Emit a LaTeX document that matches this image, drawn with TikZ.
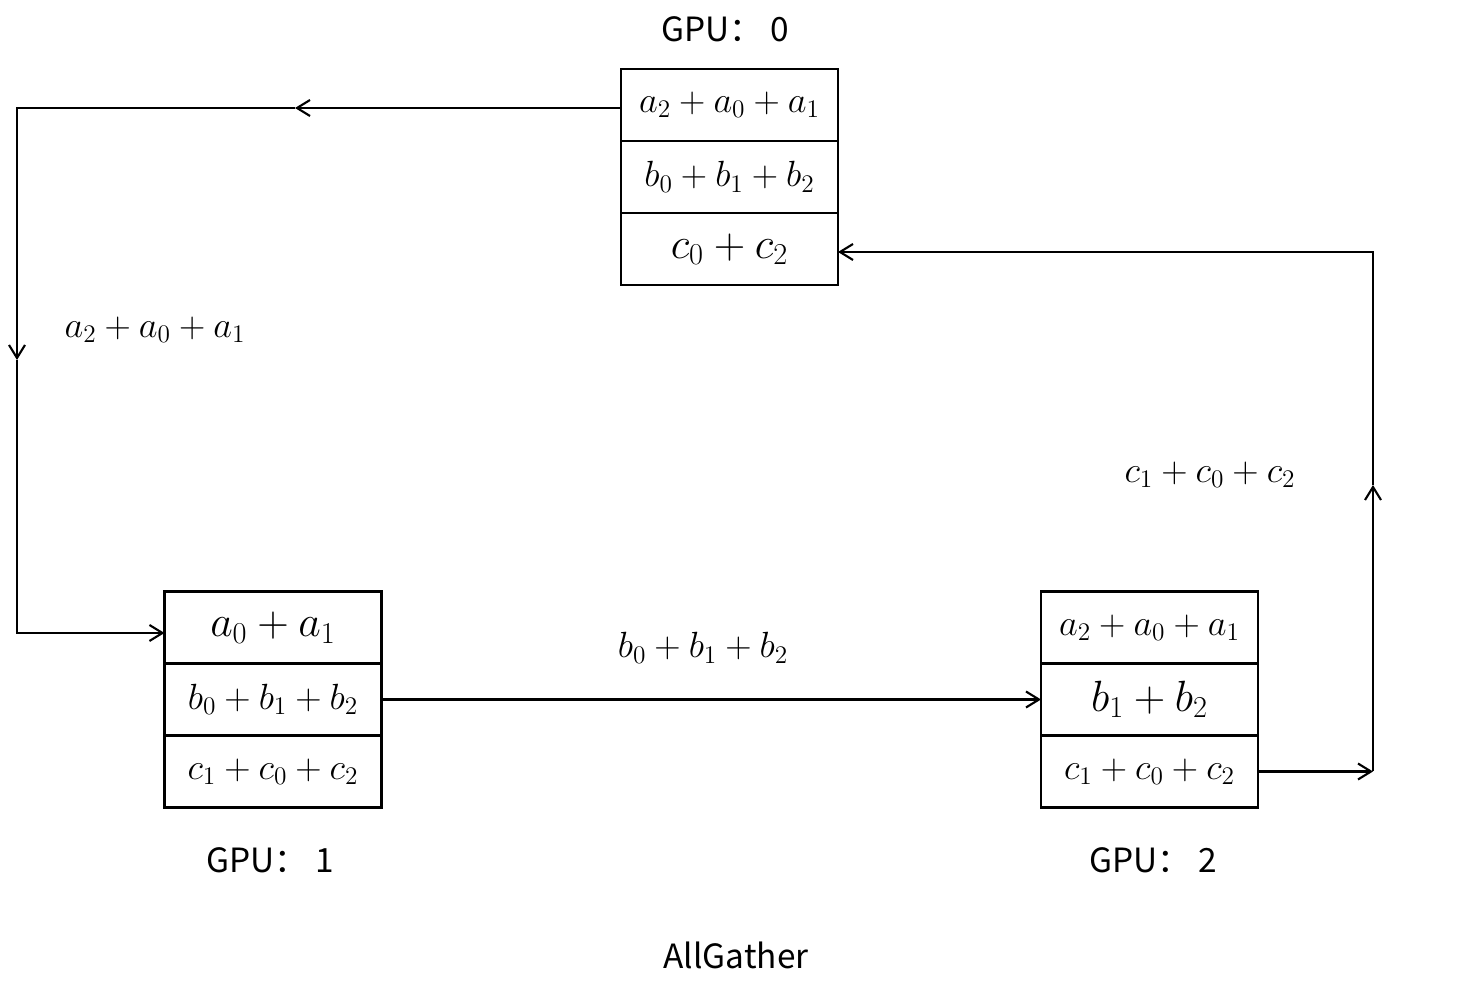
\documentclass[tikz,border=0pt]{standalone}
\usepackage{fontspec}
\usepackage{amsmath}
\newfontfamily\gpufont{Noto Sans CJK SC}
\usetikzlibrary{positioning,arrows.meta}

\begin{document}
\begin{tikzpicture}[
    cell/.style={draw, rectangle, line width=1.2pt, minimum width=4.34cm, minimum height=1.44cm, inner sep=0pt, outer sep=0pt, font=\fontsize{20}{22}\selectfont},
    bigcell/.style={cell, font=\fontsize{26}{28}\selectfont},
    gpulabel/.style={font=\gpufont\fontsize{19}{22}\selectfont},
    msg/.style={font=\fontsize{20}{22}\selectfont},
    link/.style={line width=1.2pt, -{Straight Barb[length=2.6mm,width=3.2mm]}}
]
        \useasboundingbox (0,0) rectangle (29.64,19.86);

        % GPU 0
        \node[cell] (g0a) at (14.59,17.76) {$a_2+a_0+a_1$};
        \node[cell] (g0b) at (14.59,16.32) {$b_0+b_1+b_2$};
        \node[bigcell] (g0c) at (14.59,14.88) {$c_0+c_2$};
        \node[gpulabel] (l0) at (14.5,19.28) {GPU： 0};

        % GPU 1
        \node[bigcell] (g1a) at (5.46,7.31) {$a_0+a_1$};
        \node[cell] (g1b) at (5.46,5.87) {$b_0+b_1+b_2$};
        \node[cell] (g1c) at (5.46,4.43) {$c_1+c_0+c_2$};
        \node[gpulabel] (l1) at (5.4,2.66) {GPU： 1};

        % GPU 2
        \node[cell] (g2a) at (22.99,7.31) {$a_2+a_0+a_1$};
        \node[bigcell] (g2b) at (22.99,5.87) {$b_1+b_2$};
        \node[cell] (g2c) at (22.99,4.43) {$c_1+c_0+c_2$};
        \node[gpulabel] (l2) at (23.06,2.66) {GPU： 2};

        \node[gpulabel] (title) at (14.72,0.76) {AllGather};

        % corners of the ring
        \coordinate (m1) at (5.9,17.7);
        \coordinate (c1) at (0.34,17.7);
        \coordinate (m2) at (0.34,12.66);
        \coordinate (c2) at (0.34,7.2);
        \coordinate (c3) at (27.46,4.43);
        \coordinate (m3) at (27.46,10.16);
        \coordinate (c4) at (27.46,14.82);

        \node[msg] (t0) at (3.1,13.26) {$a_2+a_0+a_1$};
        \node[msg] (t1) at (14.06,6.9) {$b_0+b_1+b_2$};
        \node[msg] (t2) at (24.2,10.36) {$c_1+c_0+c_2$};

        \path[draw,link] (m1 -| g0a.west) -- (m1);
        \path[draw,link] (m1) -- (c1) -- (m2);
        \path[draw,link] (m2) -- (c2) -- (c2 -| g1a.west);
        \path[draw,link] (g1b.east) -- (g2b.west);
        \path[draw,link] (g2c.east) -- (c3);
        \path[draw,link] (c3) -- (m3);
        \path[draw,link] (m3) -- (c4) -- (c4 -| g0c.east);
\end{tikzpicture}
\end{document}
